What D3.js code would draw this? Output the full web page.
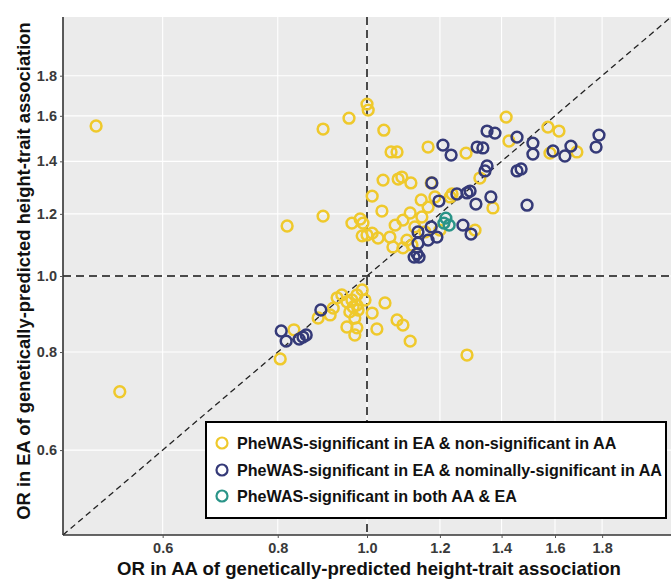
<!DOCTYPE html>
<html><head><meta charset="utf-8">
<script src="https://cdn.jsdelivr.net/npm/d3@7"></script>
<style>body{margin:0;background:#fff}svg{display:block}</style>
</head><body><div id="chart"></div>
<script>
// ---- data (OR in AA = x, OR in EA = y) ----
const xTicks = [0.6, 0.8, 1.0, 1.2, 1.4, 1.6, 1.8];
const yTicks = [0.6, 0.8, 1.0, 1.2, 1.4, 1.6, 1.8];
const seriesNames = [
  "PheWAS-significant in EA & non-significant in AA",
  "PheWAS-significant in EA & nominally-significant in AA",
  "PheWAS-significant in both AA & EA"
];
const seriesColors = ["#EFC92C", "#353A78", "#2A9488"];

const yellowAA = [0.508,0.539,1.000,1.003,0.956,0.896,1.043,1.416,1.572,1.616,1.690,1.580,1.426,1.165,1.281,1.062,1.078,1.041,1.081,1.091,1.013,1.038,1.326,1.237,1.370,1.310,0.896,0.819,0.963,0.983,0.988,1.013,1.028,1.000,1.145,1.114,1.073,1.094,1.059,1.067,1.094,1.105,1.127,1.147,1.165,1.185,1.231,0.990,1.116,1.174,1.156,1.119,1.200,
  0.805,0.833,0.885,0.912,0.928,0.939,0.951,0.963,0.975,0.966,0.978,0.958,0.975,0.995,1.013,0.951,0.975,0.970,1.025,1.046,1.078,1.094,1.114,0.919,1.284,0.970,0.988];
const yellowEA = [1.553,0.712,1.656,1.627,1.589,1.539,1.534,1.594,1.548,1.530,1.439,1.434,1.486,1.460,1.434,1.439,1.439,1.325,1.329,1.337,1.264,1.210,1.333,1.272,1.221,1.144,1.192,1.158,1.168,1.182,1.125,1.134,1.118,1.128,1.250,1.203,1.161,1.178,1.121,1.089,1.086,1.111,1.155,1.189,1.224,1.261,1.261,1.168,1.314,1.314,1.138,1.095,1.144,
  0.784,0.854,0.884,0.892,0.938,0.946,0.927,0.932,0.946,0.913,0.905,0.900,0.918,0.932,0.897,0.861,0.859,0.841,0.856,0.924,0.879,0.866,0.826,0.910,0.793,0.884,0.960];

const navyAA = [1.350,1.377,1.455,1.514,1.514,1.209,1.234,1.317,1.336,1.592,1.640,1.665,1.786,1.773,1.350,1.343,1.455,1.470,1.176,1.197,1.252,1.284,1.294,1.313,1.363,1.492,1.136,1.174,1.191,1.165,1.136,1.271,1.297,1.133,1.139,1.125,0.807,0.817,0.844,0.852,0.859,0.891];
const navyEA = [1.530,1.521,1.503,1.477,1.430,1.468,1.426,1.460,1.456,1.443,1.422,1.464,1.512,1.460,1.381,1.361,1.361,1.369,1.314,1.246,1.272,1.276,1.283,1.235,1.261,1.231,1.138,1.155,1.121,1.111,1.101,1.161,1.131,1.067,1.057,1.057,0.851,0.826,0.831,0.836,0.841,0.905];

const tealAA = [1.218,1.228,1.212];
const tealEA = [1.185,1.161,1.168];

// ---- layout ----
const W = 671, H = 580;
const L = 63, R = 671, T = 17, B = 535;
const lim = [Math.exp(-0.76), Math.exp(0.76)];

const svg = d3.select("#chart").append("svg").attr("width", W).attr("height", H)
  .style("font-family", "'Liberation Sans', Arial, sans-serif");

const x = d3.scaleLog().domain(lim).range([L, R]);
const y = d3.scaleLog().domain(lim).range([B, T]);

svg.append("rect").attr("x", L).attr("y", T).attr("width", R - L).attr("height", B - T).attr("fill", "#EBEBEB");

// grid
svg.append("g").selectAll("line").data(xTicks).join("line")
  .attr("x1", d => x(d)).attr("x2", d => x(d)).attr("y1", T).attr("y2", B)
  .attr("stroke", "#fff").attr("stroke-width", 1.1);
svg.append("g").selectAll("line").data(yTicks).join("line")
  .attr("y1", d => y(d)).attr("y2", d => y(d)).attr("x1", L).attr("x2", R)
  .attr("stroke", "#fff").attr("stroke-width", 1.1);

// reference lines
svg.append("line").attr("x1", x(1)).attr("x2", x(1)).attr("y1", T).attr("y2", B)
  .attr("stroke", "#4a4a4a").attr("stroke-width", 2).attr("stroke-dasharray", "8,5");
svg.append("line").attr("x1", L).attr("x2", R).attr("y1", y(1)).attr("y2", y(1))
  .attr("stroke", "#4a4a4a").attr("stroke-width", 2).attr("stroke-dasharray", "8,5");
svg.append("line").attr("x1", x(lim[0])).attr("y1", y(lim[0])).attr("x2", x(lim[1])).attr("y2", y(lim[1]))
  .attr("stroke", "#222").attr("stroke-width", 1.3).attr("stroke-dasharray", "6,4");

// points
const groups = [
  {aa: yellowAA, ea: yellowEA, c: seriesColors[0]},
  {aa: navyAA, ea: navyEA, c: seriesColors[1]},
  {aa: tealAA, ea: tealEA, c: seriesColors[2]}
];
groups.forEach(g => {
  svg.append("g").selectAll("circle").data(g.aa.map((v, i) => [v, g.ea[i]])).join("circle")
    .attr("cx", d => x(d[0])).attr("cy", d => y(d[1])).attr("r", 5.4)
    .attr("fill", "none").attr("stroke", g.c).attr("stroke-width", 2.5);
});

// axes
const xa = svg.append("g").attr("transform", `translate(0,${B})`)
  .call(d3.axisBottom(x).tickValues(xTicks).tickFormat(d3.format(".1f")).tickSizeOuter(0).tickSize(3).tickPadding(5));
const ya = svg.append("g").attr("transform", `translate(${L},0)`)
  .call(d3.axisLeft(y).tickValues(yTicks).tickFormat(d3.format(".1f")).tickSizeOuter(0).tickSize(3).tickPadding(3));
[xa, ya].forEach(a => {
  a.select(".domain").attr("stroke", "#333").attr("stroke-width", 1.6);
  a.selectAll(".tick line").attr("stroke", "#555");
  a.selectAll(".tick text").attr("font-size", 14.5).attr("font-weight", "bold").attr("fill", "#3a3a3a")
    .attr("font-family", "'Liberation Sans', Arial, sans-serif");
});
xa.select(".domain").attr("d", `M${L},0H${R}`);
ya.select(".domain").attr("d", `M0,${B}V${T}`);

// axis titles
const xt = svg.append("text").attr("x", 369).attr("y", 575).attr("text-anchor", "middle")
  .attr("font-size", 16.5).attr("font-weight", "bold").attr("fill", "#111")
  .text("OR in AA of genetically-predicted height-trait association");
const yt = svg.append("text").attr("transform", "translate(30,271) rotate(-90)").attr("text-anchor", "middle")
  .attr("font-size", 16.5).attr("font-weight", "bold").attr("fill", "#111")
  .text("OR in EA of genetically-predicted height-trait association");
[[xt, 504], [yt, 498]].forEach(([t, target]) => {
  const w = t.node().getComputedTextLength();
  t.attr("font-size", 16.5 * target / w);
});

// legend
const lg = svg.append("g");
lg.append("rect").attr("x", 206).attr("y", 422).attr("width", 460).attr("height", 96)
  .attr("fill", "#fff").attr("stroke", "#000").attr("stroke-width", 2);
const rows = [443, 470, 496];
seriesNames.forEach((n, i) => {
  lg.append("circle").attr("cx", 222).attr("cy", rows[i]).attr("r", 5.5)
    .attr("fill", "none").attr("stroke", seriesColors[i]).attr("stroke-width", 2.2);
  lg.append("text").attr("class", "lt").attr("x", 237).attr("y", rows[i] + 6)
    .attr("font-size", 16.5).attr("font-weight", "bold").attr("fill", "#111").text(n);
});
// compress legend text to the reference's width
const texts = lg.selectAll("text.lt").nodes();
const w2 = texts[1].getComputedTextLength();
const f = 425 / w2;
texts.forEach(t => {
  const w = t.getComputedTextLength();
  d3.select(t).attr("textLength", w * f).attr("lengthAdjust", "spacingAndGlyphs");
});
</script>
</body></html>
